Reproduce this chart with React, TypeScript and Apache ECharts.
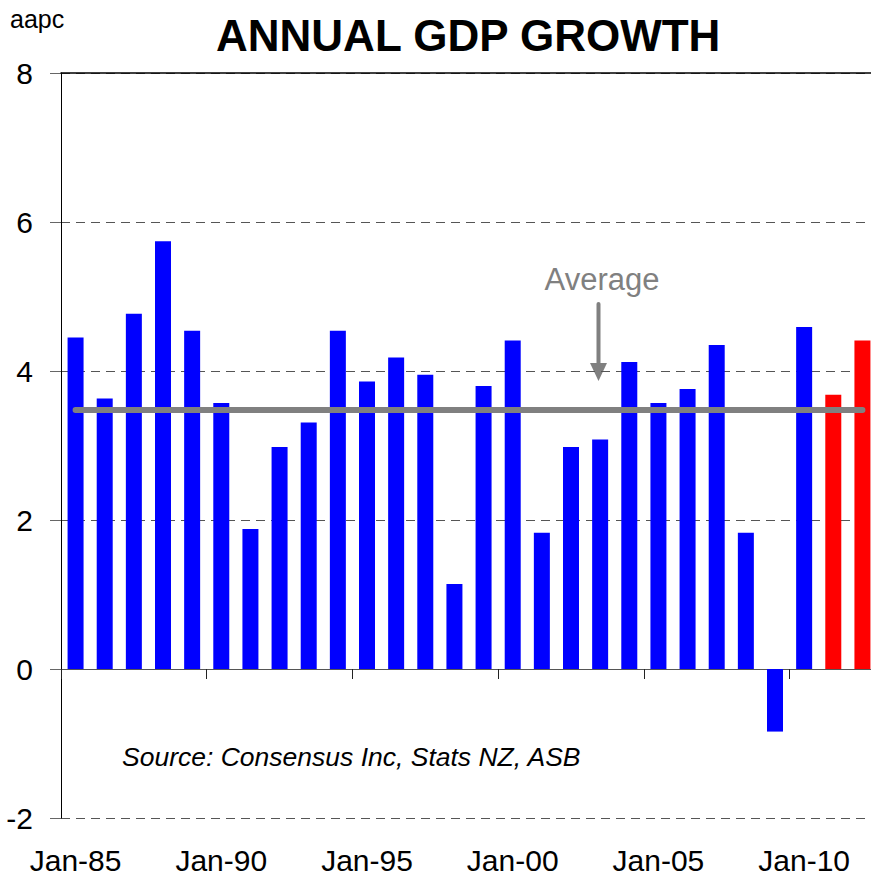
import React, { useEffect, useRef } from "react";
import * as echarts from "echarts";

const categories = [
  "Jan-85", "Jan-86", "Jan-87", "Jan-88", "Jan-89",
  "Jan-90", "Jan-91", "Jan-92", "Jan-93", "Jan-94",
  "Jan-95", "Jan-96", "Jan-97", "Jan-98", "Jan-99",
  "Jan-00", "Jan-01", "Jan-02", "Jan-03", "Jan-04",
  "Jan-05", "Jan-06", "Jan-07", "Jan-08", "Jan-09",
  "Jan-10", "Jan-11", "Jan-12",
];
const growth = [
  4.45, 3.63, 4.77, 5.74, 4.54,
  3.57, 1.88, 2.98, 3.31, 4.54,
  3.86, 4.18, 3.95, 1.14, 3.8,
  4.41, 1.83, 2.98, 3.08, 4.12,
  3.57, 3.76, 4.35, 1.83, -0.84,
  4.59, 3.68, 4.41,
];
const isForecast = [
  false, false, false, false, false,
  false, false, false, false, false,
  false, false, false, false, false,
  false, false, false, false, false,
  false, false, false, false, false,
  false, true, true,
];
const averageGrowth = 3.48;
const yTicks = { min: -2, max: 8, interval: 2 };

const FONT = "'Liberation Sans', Arial, sans-serif";

export default function App() {
  const ref = useRef<HTMLDivElement>(null);
  useEffect(() => {
    if (!ref.current) return;
    const chart = echarts.init(ref.current, null, { renderer: "svg" });
    const option = {
      animation: false,
      backgroundColor: "#ffffff",
      title: {
        text: "ANNUAL GDP GROWTH",
        left: 211,
        top: 8,
        textStyle: { fontFamily: FONT, fontSize: 44, fontWeight: "bold", color: "#000" },
      },
      grid: { left: 61, right: 1, top: 73, bottom: 59, containLabel: false },
      xAxis: [
        {
          type: "category",
          data: categories,
          position: "bottom",
          axisLine: { show: true, onZero: true, lineStyle: { color: "#555", width: 1 } },
          axisTick: { show: true, interval: 4, length: 10, lineStyle: { color: "#222", width: 1 } },
          axisLabel: { show: false },
          splitLine: { show: false },
        },
        {
          type: "category",
          data: categories,
          position: "bottom",
          axisLine: { show: false, onZero: false },
          axisTick: { show: false },
          axisLabel: {
            show: true,
            interval: 4,
            margin: 27,
            fontFamily: FONT,
            fontSize: 30,
            color: "#000",
          },
          splitLine: { show: false },
        },
      ],
      yAxis: {
        type: "value",
        min: yTicks.min,
        max: yTicks.max,
        interval: yTicks.interval,
        axisLine: { show: true, lineStyle: { color: "#000", width: 1 } },
        axisTick: { show: true, length: 11, lineStyle: { color: "#666", width: 1 } },
        axisLabel: { margin: 28, fontFamily: FONT, fontSize: 30, color: "#000" },
        splitLine: { show: true, lineStyle: { type: [9, 6], color: "#555", width: 1 } },
      },
      series: [
        {
          type: "bar",
          xAxisIndex: 0,
          barWidth: 16,
          data: growth.map((v, i) => ({
            value: v,
            itemStyle: { color: isForecast[i] ? "#ff0000" : "#0000ff" },
          })),
          markLine: {
            silent: true,
            symbol: "none",
            label: { show: false },
            data: [
              { yAxis: yTicks.max, lineStyle: { color: "#000", width: 1.5, type: "solid" } },
              [
                { coord: [categories[0], averageGrowth] },
                { coord: [categories[categories.length - 1], averageGrowth] },
              ],
            ],
            lineStyle: { color: "#808080", width: 6, type: "solid", cap: "round" },
          },
        },
      ],
      graphic: [
        {
          type: "text",
          left: 10,
          top: 6,
          style: { text: "aapc", fontFamily: FONT, fontSize: 25, fill: "#000" },
        },
        {
          type: "text",
          x: 602,
          y: 279,
          style: {
            text: "Average",
            fontFamily: FONT,
            fontSize: 31,
            fill: "#808080",
            align: "center",
            verticalAlign: "middle",
          },
        },
        {
          type: "line",
          shape: { x1: 598.5, y1: 304, x2: 598.5, y2: 366 },
          style: { stroke: "#808080", lineWidth: 4, lineCap: "round" },
        },
        {
          type: "polygon",
          shape: { points: [[590, 363], [607, 363], [598.5, 381]] },
          style: { fill: "#808080" },
        },
        {
          type: "text",
          x: 122,
          y: 757,
          style: {
            text: "Source: Consensus Inc, Stats NZ, ASB",
            fontFamily: FONT,
            fontSize: 26.5,
            fontStyle: "italic",
            fill: "#000",
            verticalAlign: "middle",
          },
        },
      ],
    };
    chart.setOption(option as any);
    return () => chart.dispose();
  }, []);
  return (
    <div style={{ position: "fixed", left: 0, top: 0, width: 871, height: 877, overflow: "hidden", background: "#fff" }}>
      <div ref={ref} style={{ position: "absolute", left: 0, top: 0, width: 878, height: 877 }} />
    </div>
  );
}
